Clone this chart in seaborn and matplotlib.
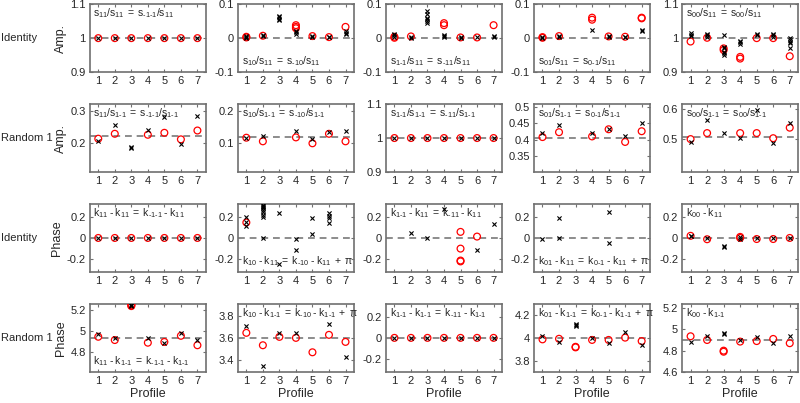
import numpy as np
import pandas as pd
import seaborn as sns
import matplotlib
matplotlib.use('Agg')
from matplotlib import pyplot as plt
from matplotlib.ticker import FuncFormatter

sns.set_theme(style='ticks')
plt.rcParams['font.family'] = ['Liberation Sans', 'DejaVu Sans']
plt.rcParams['mathtext.fontset'] = 'custom'
plt.rcParams['mathtext.rm'] = 'Liberation Sans'
plt.rcParams['mathtext.it'] = 'Liberation Sans:italic'

#### data: one list per profile (1..7), black = x markers, red = open circles
profiles = [1, 2, 3, 4, 5, 6, 7]
row_names = ['Identity', 'Random 1', 'Identity', 'Random 1']
row_ylabels = ['Amp.', 'Amp.', 'Phase', 'Phase']

# row 1 : Identity, amplitude
amp_id_k1 = [[1.0], [1.0], [1.0], [1.0], [1.0], [1.0], [1.0]]
amp_id_r1 = [[1.0], [1.0], [1.0], [1.0], [1.0], [1.0], [1.0]]
amp_id_k2 = [[0.001, 0.003, 0.005], [0.006, 0.008], [0.052, 0.057, 0.062, 0.066],
             [0.013, 0.017, 0.021], [0.004, 0.006], [0.002, 0.004], [0.012, 0.016, 0.02]]
amp_id_r2 = [[0.002, 0.004], [0.007], [], [0.029, 0.033, 0.038], [0.006], [0.003], [0.033]]
amp_id_k3 = [[0.004, 0.008, 0.012], [0.001, 0.004], [0.045, 0.05, 0.055, 0.06, 0.07, 0.08],
             [0.002, 0.005, 0.008], [0.001, 0.003], [0.002], [0.002, 0.005]]
amp_id_r3 = [[0.001, 0.004], [0.005], [], [0.038, 0.044], [0.002], [0.002], [0.038]]
amp_id_k4 = [[0.001, 0.004], [0.002, 0.005], [], [0.024], [0.003, 0.005], [0.002, 0.004], [0.02, 0.024]]
amp_id_r4 = [[0.001, 0.003], [0.006], [], [0.054, 0.06], [0.005], [0.004], [0.058, 0.06]]
amp_id_k5 = [[1.005, 1.01, 1.015], [1.004, 1.008, 1.012], [0.95, 0.955, 0.96, 0.97, 0.975, 1.01],
             [0.984, 0.988, 0.992], [1.008, 1.012], [1.004, 1.008, 1.012], [0.97, 0.985, 0.99, 0.995, 1.0]]
amp_id_r5 = [[0.99], [1.001], [0.965, 0.97], [0.94, 0.945], [1.0], [1.0], [0.947]]

# row 2 : Random 1, amplitude
amp_rn_k1 = [[0.207], [0.256], [0.186, 0.19], [0.242], [0.279], [0.197], [0.283]]
amp_rn_r1 = [[0.214], [0.229], [], [0.226], [0.232], [0.212], [0.239]]
amp_rn_k2 = [[0.115], [0.121], [], [0.137], [0.113], [0.133], [0.139]]
amp_rn_r2 = [[0.117], [0.106], [], [0.118], [0.1], [0.129], [0.106]]
amp_rn_k3 = [[1.0], [1.0], [1.0], [1.0], [1.0], [1.0], [1.0]]
amp_rn_r3 = [[1.0], [1.0], [1.0], [1.0], [1.0], [1.0], [1.0]]
amp_rn_k4 = [[0.42], [0.445], [], [0.42], [0.433], [0.41], [0.45]]
amp_rn_r4 = [[0.408], [0.423], [], [0.41], [0.432], [0.393], [0.426]]
amp_rn_k5 = [[0.49], [0.565], [0.52], [0.505], [0.598], [0.487], [0.554]]
amp_rn_r5 = [[0.5], [0.52], [], [0.52], [0.52], [0.503], [0.538]]

# row 3 : Identity, phase
ph_id_k1 = [[0.0], [0.0], [0.0], [0.0], [0.0], [0.0], [0.0]]
ph_id_r1 = [[0.0], [0.0], [0.0], [0.0], [0.0], [0.0], [0.0]]
ph_id_k2 = [[0.108, 0.149, 0.196], [0.0, 0.2, 0.22, 0.24, 0.26, 0.28, 0.29, 0.3, 0.31],
            [0.236, -0.245], [-0.012, -0.11], [0.185, 0.035], [0.145, 0.185, 0.21, 0.238], []]
ph_id_r2 = [[0.145], [], [], [], [], [], []]
ph_id_k3 = [[], [0.044], [0.0], [0.276], [], [-0.113], [0.135]]
ph_id_r3 = [[], [], [], [], [0.057, -0.1, -0.212, -0.22], [0.013], []]
ph_id_k4 = [[-0.006], [0.186, 0.0], [], [], [0.242, -0.047], [], []]
ph_id_r4 = [[], [], [], [], [], [], []]
ph_id_k5 = [[0.015, 0.02], [-0.005], [-0.081, -0.076], [-0.012, 0.005], [-0.005], [-0.005], [-0.005]]
ph_id_r5 = [[0.02], [-0.012], [], [0.01, 0.0], [-0.01], [-0.01], [0.0]]

# row 4 : Random 1, phase
ph_rn_k1 = [[4.975], [4.93], [5.238, 5.245, 5.25], [4.93], [4.883], [4.98], [4.92]]
ph_rn_r1 = [[4.946], [4.915], [5.235, 5.242, 5.25], [4.89], [4.897], [4.955], [4.866]]
ph_rn_k2 = [[3.708], [3.352], [3.645], [3.645], [], [3.728], [3.432]]
ph_rn_r2 = [[3.645], [3.534], [3.609], [3.6], [3.471], [3.627], [3.564]]
ph_rn_k3 = [[0.0], [0.0], [0.0], [0.0], [0.0], [0.0], [0.0]]
ph_rn_r3 = [[0.0], [0.0], [0.0], [0.0], [0.0], [0.0], [0.0]]
ph_rn_k4 = [[4.01], [3.966], [4.1, 4.11, 4.12], [4.0], [3.95], [4.05], [3.94]]
ph_rn_r4 = [[3.985], [3.99], [3.915, 3.92], [3.98], [3.98], [4.0], [3.97]]
ph_rn_k5 = [[4.878], [4.935], [4.96, 4.965], [4.9], [4.93], [4.875], [4.94]]
ph_rn_r5 = [[4.935], [4.9], [4.79, 4.8], [4.885], [4.89], [4.91], [4.87]]

# dashed reference levels
ref_amp_id = [1.0, 0.0, 0.0, 0.0, 1.0]
ref_amp_rn = [0.221, 0.118, 1.0, 0.406, 0.508]
ref_ph_id = [0.0, 0.0, 0.0, 0.0, 0.0]
ref_ph_rn = [4.934, 3.6, 0.0, 3.995, 4.9]

# panel texts
txt_amp_id = ['s_{11}/s_{11} = s_{-1-1}/s_{11}', 's_{10}/s_{11} = s_{-10}/s_{11}',
              's_{1-1}/s_{11} = s_{-11}/s_{11}', 's_{01}/s_{11} = s_{0-1}/s_{11}',
              's_{00}/s_{11} = s_{00}/s_{11}']
txt_amp_rn = ['s_{11}/s_{1-1} = s_{-1-1}/s_{1-1}', 's_{10}/s_{1-1} = s_{-10}/s_{1-1}',
              's_{1-1}/s_{1-1} = s_{-11}/s_{1-1}', 's_{01}/s_{1-1} = s_{0-1}/s_{1-1}',
              's_{00}/s_{1-1} = s_{00}/s_{1-1}']
txt_ph_id = ['k_{11} - k_{11} = k_{-1-1} - k_{11}', 'k_{10} - k_{11} = k_{-10} - k_{11} + \\pi',
             'k_{1-1} - k_{11} = k_{-11} - k_{11}', 'k_{01} - k_{11} = k_{0-1} - k_{11} + \\pi',
             'k_{00} - k_{11}']
txt_ph_rn = ['k_{11} - k_{1-1} = k_{-1-1} - k_{1-1}', 'k_{10} - k_{1-1} = k_{-10} - k_{1-1} + \\pi',
             'k_{1-1} - k_{1-1} = k_{-11} - k_{1-1}', 'k_{01} - k_{1-1} = k_{0-1} - k_{1-1} + \\pi',
             'k_{00} - k_{1-1}']

#### layout of each panel (axis settings only)
ylims = [[(0.9, 1.1), (-0.1, 0.1), (-0.1, 0.1), (-0.1, 0.1), (0.9, 1.1)],
         [(0.112, 0.32), (0.012, 0.22), (0.9, 1.1), (0.30, 0.51), (0.39, 0.617)],
         [(-0.32, 0.32)] * 5,
         [(4.614, 5.257), (3.295, 3.905), (-0.32, 0.32), (3.70, 4.296), (4.6, 5.24)]]
yticks = [[[0.9, 1, 1.1], [-0.1, 0, 0.1], [-0.1, 0, 0.1], [-0.1, 0, 0.1], [0.9, 1, 1.1]],
          [[0.2, 0.3], [0.1, 0.2], [0.9, 1, 1.1], [0.35, 0.4, 0.45, 0.5], [0.5, 0.6]],
          [[-0.2, 0, 0.2]] * 5,
          [[4.8, 5, 5.2], [3.4, 3.6, 3.8], [-0.2, 0, 0.2], [3.8, 4, 4.2], [4.6, 4.8, 5, 5.2]]]
txt_top = [[True, False, False, False, True],
           [True] * 5,
           [True, False, True, False, True],
           [False, True, True, True, True]]
ylabel_x = [-0.2, -0.2, -0.235, -0.2]

black = [[amp_id_k1, amp_id_k2, amp_id_k3, amp_id_k4, amp_id_k5],
         [amp_rn_k1, amp_rn_k2, amp_rn_k3, amp_rn_k4, amp_rn_k5],
         [ph_id_k1, ph_id_k2, ph_id_k3, ph_id_k4, ph_id_k5],
         [ph_rn_k1, ph_rn_k2, ph_rn_k3, ph_rn_k4, ph_rn_k5]]
red = [[amp_id_r1, amp_id_r2, amp_id_r3, amp_id_r4, amp_id_r5],
       [amp_rn_r1, amp_rn_r2, amp_rn_r3, amp_rn_r4, amp_rn_r5],
       [ph_id_r1, ph_id_r2, ph_id_r3, ph_id_r4, ph_id_r5],
       [ph_rn_r1, ph_rn_r2, ph_rn_r3, ph_rn_r4, ph_rn_r5]]
refs = [ref_amp_id, ref_amp_rn, ref_ph_id, ref_ph_rn]
texts = [txt_amp_id, txt_amp_rn, txt_ph_id, txt_ph_rn]


def to_frame(vals):
    rows = [(profiles[i], v) for i, vs in enumerate(vals) for v in vs]
    return pd.DataFrame(rows, columns=['Profile', 'val'])


def mtext(s):
    # short hyphens instead of long minus signs, normal word spaces
    s = s.replace('-', '{\u2010}').replace(' ', r'\;')
    return r'$\mathregular{' + s + '}$'


box_col = '#707070'
txt_col = '#262626'

fig, axes = plt.subplots(4, 5, figsize=(8, 4.03), dpi=100)
fig.subplots_adjust(left=0.1125, right=0.9975, top=0.990, bottom=0.077,
                    wspace=0.28, hspace=0.465)

for r in range(4):
    for c in range(5):
        ax = axes[r, c]
        ax.axhline(refs[r][c], color='#8c8c8c', ls=(0, (3.5, 2.5)), lw=1.4, zorder=1)
        dr = to_frame(red[r][c])
        if len(dr):
            sns.scatterplot(data=dr, x='Profile', y='val', ax=ax, marker='o', s=24,
                            facecolors='none', edgecolor='#ff0000', linewidth=0.9, zorder=3)
        dk = to_frame(black[r][c])
        if len(dk):
            sns.scatterplot(data=dk, x='Profile', y='val', ax=ax, marker='x', s=9,
                            color='black', linewidth=0.8, zorder=4)
        ax.set_xlim(0.5, 7.5)
        ax.set_ylim(*ylims[r][c])
        ax.set_xticks(profiles)
        ax.set_yticks(yticks[r][c])
        ax.yaxis.set_major_formatter(FuncFormatter(lambda v, p: f'{v:g}'))
        ax.tick_params(direction='in', top=True, right=True, length=2.5, width=0.8,
                       labelsize=8, colors=box_col, labelcolor=txt_col, pad=3)
        for sp in ax.spines.values():
            sp.set_color(box_col)
            sp.set_linewidth(1.2)
        ax.set_xlabel('Profile' if r == 3 else '', fontsize=9, color=txt_col, labelpad=1)
        if c == 0:
            ax.set_ylabel(row_ylabels[r], fontsize=9, color=txt_col)
            ax.yaxis.set_label_coords(ylabel_x[r], 0.5)
        else:
            ax.set_ylabel('')
        if txt_top[r][c]:
            ax.text(0.03, 0.97, mtext(texts[r][c]), transform=ax.transAxes,
                    ha='left', va='top', fontsize=7.5, color=txt_col)
        else:
            ax.text(0.03, 0.06, mtext(texts[r][c]), transform=ax.transAxes,
                    ha='left', va='bottom', fontsize=7.5, color=txt_col)

    pos = axes[r, 0].get_position()
    fig.text(0.001, (pos.y0 + pos.y1) / 2, row_names[r], ha='left', va='center',
             fontsize=8, color=txt_col)

fig.savefig('out.png', dpi=100)
